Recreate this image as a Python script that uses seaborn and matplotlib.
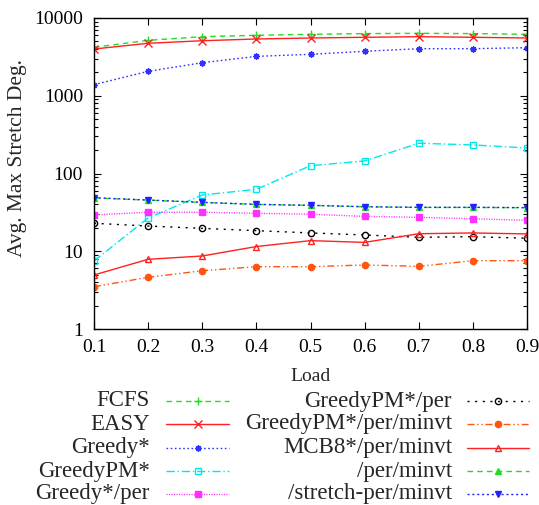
import matplotlib
matplotlib.use("Agg")
import matplotlib.pyplot as plt
import matplotlib.ticker as mticker
from matplotlib.lines import Line2D
import seaborn as sns

loads = [0.1, 0.2, 0.3, 0.4, 0.5, 0.6, 0.7, 0.8, 0.9]

fcfs = [4200, 5160, 5750, 5990, 6170, 6300, 6350, 6300, 6170]
easy = [3990, 4730, 5100, 5370, 5530, 5650, 5750, 5650, 5530]
greedy = [1390, 2060, 2660, 3210, 3410, 3730, 4030, 4030, 4150]
greedy_pm = [7.5, 26.8, 52.9, 62.6, 126, 145, 245, 233, 213]
greedy_per = [29.3, 31.7, 31.7, 30.8, 29.9, 28.1, 27.3, 26.2, 25.0]
greedy_pm_per = [22.9, 21.1, 19.7, 18.4, 17.2, 16.2, 15.1, 15.4, 14.7]
greedy_pm_per_minvt = [3.50, 4.62, 5.62, 6.33, 6.33, 6.66, 6.40, 7.56, 7.56]
mcb8_per_minvt = [4.95, 7.88, 8.69, 11.5, 13.7, 13.0, 16.8, 17.2, 16.7]
per_minvt = [48.5, 45.4, 42.4, 40.0, 38.9, 37.3, 36.6, 36.6, 36.3]
stretch_per_minvt = [48.8, 45.6, 42.6, 40.1, 39.0, 37.4, 36.7, 36.7, 36.4]

labels = ["FCFS", "EASY", "Greedy*", "GreedyPM*", "Greedy*/per",
          "GreedyPM*/per", "GreedyPM*/per/minvt", "MCB8*/per/minvt",
          "/per/minvt", "/stretch-per/minvt"]
series = [fcfs, easy, greedy, greedy_pm, greedy_per, greedy_pm_per,
          greedy_pm_per_minvt, mcb8_per_minvt, per_minvt, stretch_per_minvt]

# (color, linestyle, marker, filled)
styles = [
    ("#22dd22", (0, (4, 3)), "+", True),
    ("#ff2020", "-", "x", True),
    ("#3333ff", (0, (1.2, 1.8)), (8, 2, 0), True),
    ("#00e8e8", (0, (6, 2, 1, 2)), "s", False),
    ("#ff30ff", (0, (0.8, 1.0)), "s", True),
    ("#000000", (0, (1.5, 4)), "o", False),
    ("#ff5511", (0, (5, 2, 1, 2, 1, 2)), "o", True),
    ("#ff2020", "-", "^", False),
    ("#22dd22", (0, (4, 3)), "^", True),
    ("#2222ff", (0, (1.5, 2)), "v", True),
]


def msize(mk):
    return 5.5 if mk in ("+", "x") else 4.5


sns.set_style("ticks")
plt.rcParams["font.family"] = ["Liberation Serif", "DejaVu Serif"]

fig = plt.figure(figsize=(5.39, 5.05), dpi=100)
ax = fig.add_axes([94 / 539, 1 - 329 / 505, 433 / 539, 311 / 505])

for lab, vals, (c, ls, mk, filled) in zip(labels, series, styles):
    sns.lineplot(x=loads, y=vals, ax=ax, color=c, linestyle=ls, linewidth=1.0,
                 marker=mk, markersize=msize(mk),
                 markerfacecolor=c if filled else "none", markeredgecolor=c,
                 markeredgewidth=1.0, legend=False)

ax.set_yscale("log")
ax.set_ylim(1, 10000)
ax.set_xlim(0.1, 0.9)
ax.set_xticks(loads)
ax.set_xticklabels([f"{v:.1f}" for v in loads])
ax.yaxis.set_major_locator(mticker.LogLocator(base=10))
ax.yaxis.set_major_formatter(mticker.FuncFormatter(lambda v, p: f"{int(round(v))}"))
ax.yaxis.set_minor_locator(mticker.LogLocator(base=10, subs=range(2, 10)))
ax.yaxis.set_minor_formatter(mticker.NullFormatter())
ax.tick_params(which="both", direction="in", top=True, right=True, labelsize=14,
               width=0.8, colors="black")
ax.tick_params(which="major", length=5)
ax.tick_params(axis="y", which="major", pad=8)
ax.tick_params(axis="x", which="major", pad=7)
ax.tick_params(which="minor", length=3)
for s in ax.spines.values():
    s.set_linewidth(1.0)
    s.set_color("black")
ax.set_xlabel("Load", fontsize=14, labelpad=9)
ax.set_ylabel("Avg. Max Stretch Deg.", fontsize=15.5)
ax.yaxis.set_label_coords(-0.155, 0.55)

# gnuplot-style legend: right-aligned labels followed by line samples
row_y = [401, 424, 447.5, 471, 494]
cols = [(150, 166, 229), (452, 467, 529)]
for i, (lab, (c, ls, mk, filled)) in enumerate(zip(labels, styles)):
    tx, x0, x1 = cols[i // 5]
    y = 1 - row_y[i % 5] / 505
    fig.text(tx / 539, y, lab, ha="right", va="center", fontsize=16.5)
    fig.add_artist(Line2D([x0 / 539, x1 / 539], [y, y], color=c, linestyle=ls,
                          linewidth=1.0, transform=fig.transFigure))
    fig.add_artist(Line2D([(x0 + x1) / 2 / 539], [y], color=c, linestyle="none",
                          marker=mk, markersize=msize(mk),
                          markerfacecolor=c if filled else "none",
                          markeredgecolor=c, markeredgewidth=1.0,
                          transform=fig.transFigure))

fig.savefig("out.png", dpi=100)
